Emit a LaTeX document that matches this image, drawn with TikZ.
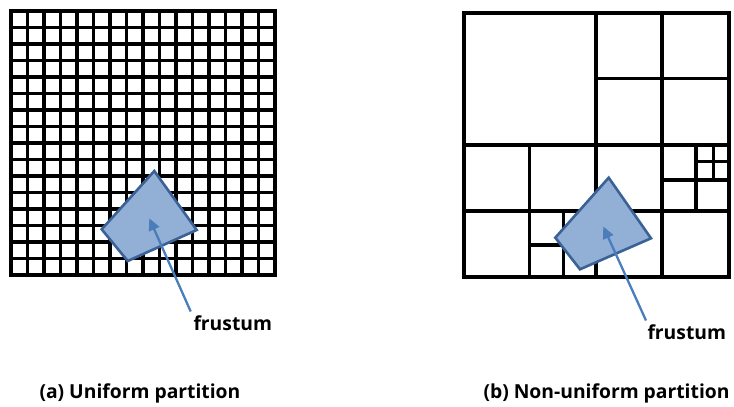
\documentclass[tikz,border=0pt]{standalone}
\usepackage{fontspec}
\setmainfont{Open Sans}
\usetikzlibrary{arrows.meta}
\definecolor{frfill}{HTML}{92AFD6}
\definecolor{frdraw}{HTML}{3B6296}
\definecolor{arrowc}{HTML}{4A7EBB}
\tikzset{
  gridline/.style={line width=3.9pt, black},
  frame/.style={line width=4.8pt, black, line join=miter},
  qline/.style={line width=3.1pt, black},
  qframe/.style={line width=3.8pt, black},
  frustumshape/.style={fill=frfill, draw=frdraw, line width=2.6pt, line join=miter},
  pointer/.style={draw=arrowc, line width=2.3pt, -{Triangle[length=12pt,width=11pt]}},
  lbl/.style={font=\fontsize{19.3}{23}\selectfont\bfseries, inner sep=0pt, anchor=base west}
}
\begin{document}
\begin{tikzpicture}[x=1pt,y=-1pt]
\useasboundingbox (0,0) rectangle (734,407);
% ---------- (a) uniform grid ----------
\foreach \i in {1,...,15}{
  \draw[gridline] ({11+16.5*\i},11) -- ({11+16.5*\i},275);
  \draw[gridline] (11,{11+16.5*\i}) -- (275,{11+16.5*\i});
}
\draw[frame] (11,11) rectangle (275,275);
\draw[frustumshape] (154.3,171) -- (196.7,230) -- (127.7,261) -- (101.7,229.3) -- cycle;
\node[lbl] (frA) at (193.3,330.7) {frustum};
\coordinate (tailA) at (190.7,311.5);
\coordinate (tipA) at (149.3,218.3);
\draw[pointer] (tailA) -- (tipA);
\node[lbl] (capA) at (39.3,398.3) {(a) Uniform partition};
% ---------- (b) non-uniform partition ----------
% halves
\draw[qline] (596,12.7) -- (596,277);
\draw[qline] (464,145) -- (728.7,145);
% top-right quadrant split
\draw[qline] (596,78.3) -- (728.7,78.3);
\draw[qline] (662,12.7) -- (662,277);
% bottom row split
\draw[qline] (464,211) -- (728.7,211);
\draw[qline] (529.3,145) -- (529.3,277);
% small cells bottom-left
\draw[qline] (563.7,211) -- (563.7,277);
\draw[qline] (529.3,245) -- (563.7,245);
% small cells right
\draw[qline] (696,145) -- (696,211);
\draw[qline] (662,180) -- (728.7,180);
\draw[qline] (713.3,145) -- (713.3,180);
\draw[qline] (696,161.7) -- (728.7,161.7);
\draw[qframe] (464,12.7) rectangle (728.7,277);
\draw[frustumshape] (608.7,177.7) -- (651,238.3) -- (580,269.3) -- (555.3,237.7) -- cycle;
\node[lbl] (frB) at (647.3,339.3) {frustum};
\coordinate (tailB) at (646,320.5);
\coordinate (tipB) at (603.3,226.5);
\draw[pointer] (tailB) -- (tipB);
\node[lbl] (capB) at (483.3,398.3) {(b) Non-uniform partition};
\end{tikzpicture}
\end{document}
